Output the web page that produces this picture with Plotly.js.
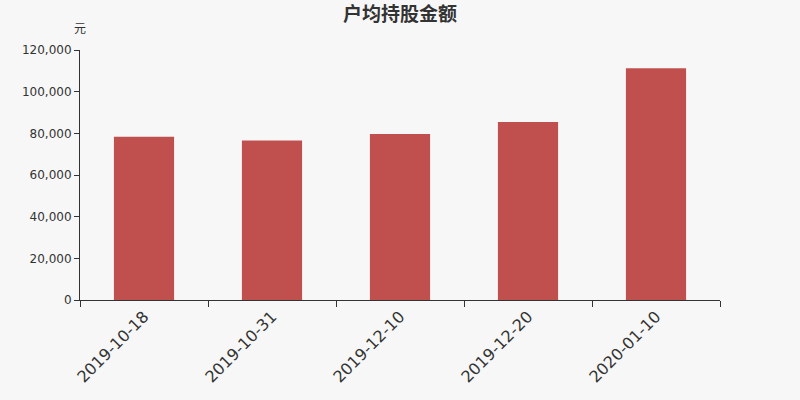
<!DOCTYPE html>
<html>
<head>
<meta charset="utf-8">
<script src="https://cdn.plot.ly/plotly-3.0.1.min.js"></script>
<style>
  html, body { margin: 0; padding: 0; background: #f7f7f7; }
  #grafico { width: 800px; height: 400px; }
</style>
</head>
<body>
<div id="grafico"></div>
<script>
"use strict";

// Fechas de corte y monto promedio por accionista (元)
const fechas = ['2019-10-18', '2019-10-31', '2019-12-10', '2019-12-20', '2020-01-10'];
const montos = [78400, 76600, 79700, 85400, 111200];
const valoresTicks = [0, 20000, 40000, 60000, 80000, 100000, 120000];

const traceBarras = {
    x: fechas,
    y: montos,
    type: 'bar',
    marker: { color: '#c0504d' },
    hoverinfo: 'none'
};

const fuente = "'DejaVu Sans', 'Noto Sans CJK SC', sans-serif";

const layout = {
    width: 800,
    height: 400,
    margin: { l: 80, r: 80, t: 50, b: 100 },
    paper_bgcolor: '#f7f7f7',
    plot_bgcolor: '#f7f7f7',
    font: { family: fuente, size: 12, color: '#333' },
    bargap: 0.53,
    showlegend: false,
    title: {
        text: '户均持股金额',
        x: 0.5,
        xanchor: 'center',
        y: 0.965,
        yanchor: 'middle',
        font: { family: "'Noto Sans CJK SC', sans-serif", size: 19, color: '#333', weight: 'bold' }
    },
    xaxis: {
        type: 'category',
        tickson: 'boundaries',
        ticks: 'outside',
        ticklen: 6,
        tickcolor: '#333',
        showline: true,
        linecolor: '#333',
        linewidth: 1,
        showgrid: false,
        tickangle: -45,
        tickfont: { size: 16, color: '#333' },
        fixedrange: true
    },
    yaxis: {
        range: [0, 120000],
        tickvals: valoresTicks,
        tickformat: ',d',
        ticks: 'outside',
        ticklen: 5,
        tickcolor: '#333',
        showline: true,
        linecolor: '#333',
        linewidth: 1,
        showgrid: false,
        zeroline: false,
        tickfont: { size: 12, color: '#333' },
        fixedrange: true
    },
    annotations: [{
        text: '元',
        xref: 'paper',
        yref: 'paper',
        x: 0,
        y: 1.09,
        xanchor: 'center',
        yanchor: 'middle',
        showarrow: false,
        font: { family: "'Noto Sans CJK SC', sans-serif", size: 12, color: '#333' }
    }]
};

const config = { displayModeBar: false, staticPlot: true };

Plotly.newPlot('grafico', [traceBarras], layout, config);
</script>
</body>
</html>
